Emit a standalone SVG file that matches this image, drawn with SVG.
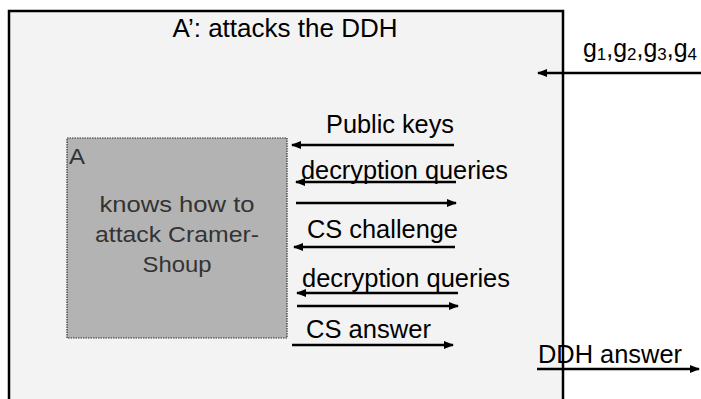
<svg xmlns="http://www.w3.org/2000/svg" width="701" height="399" viewBox="0 0 701 399">
<defs>
<style>
text{font-family:"Liberation Sans",Arial,sans-serif;font-size:25px;fill:#000}
.in{fill:#333;font-size:22px}
.ar{stroke:#000;stroke-width:2.5;fill:none;marker-end:url(#ah)}
</style>
<marker id="ah" markerUnits="userSpaceOnUse" markerWidth="12" markerHeight="10" refX="9" refY="5" orient="auto">
<path d="M0,1 L10,5 L0,9 Z" fill="#000"/>
</marker>
</defs>
<rect width="701" height="399" fill="#fff"/>
<g id="outer">
<rect x="9" y="11" width="554" height="400" fill="#f3f3f3" stroke="#000" stroke-width="2.5"/>
<text x="285" y="37" text-anchor="middle" textLength="225" lengthAdjust="spacingAndGlyphs">A’: attacks the DDH</text>
</g>
<g id="A">
<rect x="67" y="138" width="220" height="200" fill="#b3b3b3" stroke="#333" stroke-width="1.2" stroke-dasharray="1.5,1"/>
<text class="in" x="69" y="164" textLength="16" lengthAdjust="spacingAndGlyphs">A</text>
<text class="in" x="177" y="212" text-anchor="middle" textLength="155" lengthAdjust="spacingAndGlyphs">knows how to</text>
<text class="in" x="177" y="242" text-anchor="middle" textLength="164" lengthAdjust="spacingAndGlyphs">attack Cramer-</text>
<text class="in" x="177" y="272" text-anchor="middle" textLength="69" lengthAdjust="spacingAndGlyphs">Shoup</text>
</g>
<g id="connectors">
<line class="ar" x1="701" y1="73" x2="538" y2="73"/>
<line class="ar" x1="454" y1="145" x2="292" y2="145"/>
<line class="ar" x1="456" y1="182" x2="296" y2="182"/>
<line class="ar" x1="296" y1="203" x2="456" y2="203"/>
<line class="ar" x1="455" y1="247" x2="294" y2="247"/>
<line class="ar" x1="458" y1="293" x2="297" y2="293"/>
<line class="ar" x1="297" y1="306" x2="458" y2="306"/>
<line class="ar" x1="292" y1="345" x2="453" y2="345"/>
<line class="ar" x1="537" y1="369" x2="699" y2="369"/>
</g>
<g id="labels">
<text x="583" y="57" textLength="114" lengthAdjust="spacingAndGlyphs">g<tspan font-size="17" dy="3">1</tspan><tspan dy="-3">,g</tspan><tspan font-size="17" dy="3">2</tspan><tspan dy="-3">,g</tspan><tspan font-size="17" dy="3">3</tspan><tspan dy="-3">,g</tspan><tspan font-size="17" dy="3">4</tspan></text>
<text x="326" y="133" textLength="128" lengthAdjust="spacingAndGlyphs">Public keys</text>
<text x="301" y="179" textLength="207" lengthAdjust="spacingAndGlyphs">decryption queries</text>
<text x="307" y="238" textLength="151" lengthAdjust="spacingAndGlyphs">CS challenge</text>
<text x="302" y="287" textLength="208" lengthAdjust="spacingAndGlyphs">decryption queries</text>
<text x="306" y="338" textLength="125" lengthAdjust="spacingAndGlyphs">CS answer</text>
<text x="538" y="363" textLength="144" lengthAdjust="spacingAndGlyphs">DDH answer</text>
</g>
</svg>
